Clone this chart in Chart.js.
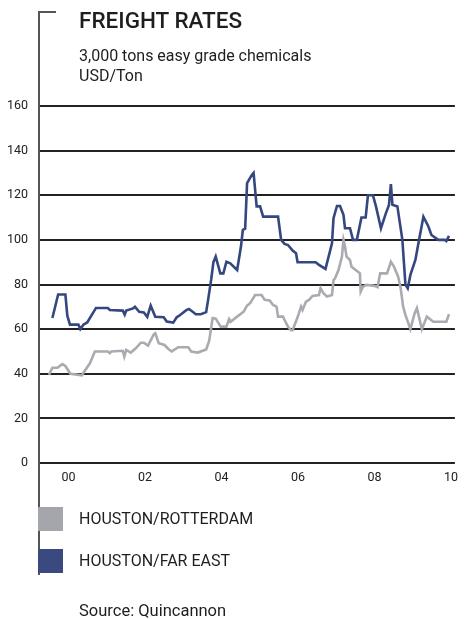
<!DOCTYPE html>
<html>
<head>
<meta charset="utf-8">
<title>Freight rates</title>
<script src="https://cdn.jsdelivr.net/npm/chart.js@4.4.1/dist/chart.umd.min.js"></script>
<style>
  body { margin: 0; background: #fff; font-family: Roboto, "DejaVu Sans", sans-serif; color: #1e1e1e; }
  #page { position: relative; width: 465px; height: 619px; overflow: hidden; }
  #wrap { position: absolute; left: 0; top: 0; width: 465px; height: 490px; }
  .vline { position: absolute; left: 38px; top: 11px; width: 2px; height: 564px; background: #555; }
  .hline { position: absolute; left: 38px; top: 11px; width: 18px; height: 2px; background: #555; }
  h1 { position: absolute; left: 79px; top: 7px; margin: 0; font-size: 22.5px; font-weight: 500; letter-spacing: 0; }
  .sub { position: absolute; left: 79px; top: 46px; font-size: 16px; line-height: 20px; }
  .key { position: absolute; left: 38px; width: 25px; height: 24px; }
  .keylabel { position: absolute; left: 79px; font-size: 16px; }
  .source { position: absolute; left: 79px; top: 601px; font-size: 16.5px; }
</style>
</head>
<body>
<div id="page">
  <div id="wrap"><canvas id="myChart" width="465" height="490"></canvas></div>
  <div class="vline"></div>
  <div class="hline"></div>
  <h1>FREIGHT RATES</h1>
  <div class="sub">3,000 tons easy grade chemicals<br>USD/Ton</div>
  <div class="key" style="top:507px; background:#a4a6ac;"></div>
  <div class="keylabel" style="top:509px;">HOUSTON/ROTTERDAM</div>
  <div class="key" style="top:549px; background:#3a4a80;"></div>
  <div class="keylabel" style="top:551px;">HOUSTON/FAR EAST</div>
  <div class="source">Source: Quincannon</div>
</div>
<script>
// Houston/Far East, USD per ton (decimal year, rate)
const feYears = [1999.58, 1999.73, 1999.92, 1999.97, 2000.04, 2000.26, 2000.31, 2000.39, 2000.49, 2000.72,
  2001.03, 2001.08, 2001.42, 2001.47, 2001.51, 2001.69, 2001.74, 2001.85, 2001.97, 2002.06,
  2002.15, 2002.27, 2002.49, 2002.57, 2002.74, 2002.83, 2002.92, 2003.08, 2003.15, 2003.23,
  2003.33, 2003.46, 2003.60, 2003.65, 2003.73, 2003.79, 2003.85, 2003.97, 2004.05, 2004.13,
  2004.23, 2004.41, 2004.51, 2004.56, 2004.62, 2004.67, 2004.79, 2004.84, 2004.92, 2005.01,
  2005.09, 2005.48, 2005.56, 2005.65, 2005.74, 2005.86, 2005.95, 2005.99, 2006.46, 2006.55,
  2006.72, 2006.89, 2006.93, 2007.02, 2007.10, 2007.19, 2007.23, 2007.36, 2007.44, 2007.54,
  2007.66, 2007.77, 2007.83, 2007.96, 2008.04, 2008.17, 2008.30, 2008.38, 2008.43, 2008.47,
  2008.60, 2008.73, 2008.81, 2008.87, 2008.94, 2009.07, 2009.15, 2009.28, 2009.41, 2009.49,
  2009.67, 2009.84, 2009.88, 2009.95];
const feRates = [65, 75.5, 75.5, 66, 62, 62, 60, 62, 63, 69.5,
  69.5, 68.6, 68.3, 66.5, 68.3, 69.3, 70, 67.8, 67.5, 65.5,
  70.5, 65.5, 65.3, 63.4, 62.9, 65.3, 66.3, 68.5, 69, 68,
  66.7, 66.7, 67.6, 73, 82, 90, 92.5, 85, 85, 90.2,
  89.5, 86.5, 97, 104.5, 105, 125.4, 129, 130, 115, 115,
  110.4, 110.4, 100, 98.2, 97.7, 95.2, 94, 90, 90, 88.8,
  87, 98.5, 109.7, 115.2, 115.2, 111.2, 105.2, 105.2, 100, 100,
  110, 110, 120, 120, 115, 105.2, 112, 115.7, 125, 115.7,
  115, 100, 80, 78.3, 84.3, 91, 98.5, 110.4, 106, 102.2,
  100, 100, 99.5, 101.8];

// Houston/Rotterdam, USD per ton
const rtYears = [1999.49, 1999.58, 1999.71, 1999.84, 1999.92, 2000.05, 2000.35, 2000.44, 2000.56, 2000.69,
  2001.03, 2001.08, 2001.12, 2001.42, 2001.46, 2001.51, 2001.63, 2001.76, 2001.89, 2001.97,
  2002.08, 2002.23, 2002.27, 2002.36, 2002.51, 2002.62, 2002.70, 2002.87, 2003.13, 2003.21,
  2003.38, 2003.60, 2003.68, 2003.77, 2003.85, 2003.98, 2004.13, 2004.20, 2004.24, 2004.41,
  2004.58, 2004.67, 2004.75, 2004.88, 2005.05, 2005.13, 2005.26, 2005.35, 2005.44, 2005.48,
  2005.61, 2005.65, 2005.74, 2005.82, 2005.86, 2005.99, 2006.08, 2006.12, 2006.21, 2006.29,
  2006.38, 2006.55, 2006.59, 2006.67, 2006.76, 2006.89, 2006.93, 2006.97, 2007.06, 2007.15,
  2007.19, 2007.23, 2007.27, 2007.36, 2007.40, 2007.56, 2007.62, 2007.64, 2007.70, 2007.79,
  2008.00, 2008.08, 2008.15, 2008.33, 2008.43, 2008.51, 2008.62, 2008.68, 2008.75, 2008.81,
  2008.94, 2009.05, 2009.11, 2009.24, 2009.37, 2009.49, 2009.54, 2009.88, 2009.95];
const rtRates = [39.5, 42.7, 42.7, 44.3, 43.5, 40, 39.3, 41.7, 44.7, 50,
  50, 49.2, 50, 50.3, 47.7, 50.7, 49.5, 51.4, 53.9, 53.9,
  52.6, 57.6, 58.1, 53.7, 52.9, 51, 50, 51.9, 51.9, 50,
  49.5, 50.9, 54.8, 65, 64.7, 61.1, 61.1, 64.5, 63.3, 65.6,
  67.8, 70.5, 71.6, 75.3, 75.3, 73.1, 72.8, 70.8, 70.1, 65.6,
  65.6, 64.1, 61.1, 59.5, 59.5, 65.3, 70.1, 68.6, 72.3, 73.1,
  74.9, 75.3, 78.3, 76, 74.6, 75.3, 82, 82.8, 86.5, 92.5,
  100, 97, 92.5, 91, 88, 85.8, 85, 76.8, 79, 79.8,
  79.4, 78.8, 85, 85, 90.2, 88, 83.5, 79, 70.1, 66.4,
  60, 67, 69.4, 60, 65.6, 64, 63.3, 63.3, 66.7];

const yTicks = [0, 20, 40, 60, 80, 100, 120, 140, 160];
const xTickYears = [2000, 2002, 2004, 2006, 2008, 2010];
const xTickLabels = ['00', '02', '04', '06', '08', '10'];

const toPoints = (xs, ys) => xs.map((x, i) => ({ x: x, y: ys[i] }));

const ctx = document.getElementById('myChart').getContext('2d');
const myChart = new Chart(ctx, {
    type: 'line',
    data: {
        datasets: [{
            label: 'HOUSTON/ROTTERDAM',
            data: toPoints(rtYears, rtRates),
            borderColor: '#a9abb0',
            borderWidth: 2.6,
            pointRadius: 0,
            tension: 0
        }, {
            label: 'HOUSTON/FAR EAST',
            data: toPoints(feYears, feRates),
            borderColor: '#34477f',
            borderWidth: 2.6,
            pointRadius: 0,
            tension: 0
        }]
    },
    options: {
        responsive: false,
        animation: false,
        devicePixelRatio: 1,
        layout: { padding: { top: 106, right: 3, left: 0, bottom: 0 } },
        plugins: { legend: { display: false }, tooltip: { enabled: false } },
        scales: {
            x: {
                type: 'linear',
                min: 1999.256,
                max: 2010.103,
                afterFit: scale => { scale.height = 27; },
                afterBuildTicks: scale => { scale.ticks = xTickYears.map(v => ({ value: v })); },
                grid: { display: false, drawTicks: false },
                border: { display: false },
                ticks: {
                    padding: 7,
                    color: '#222',
                    font: { family: 'Roboto', size: 12.5 },
                    maxRotation: 0,
                    autoSkip: false,
                    callback: value => xTickLabels[xTickYears.indexOf(value)]
                }
            },
            y: {
                min: 0,
                max: 160,
                afterFit: scale => { scale.width = 40; },
                afterBuildTicks: scale => { scale.ticks = yTicks.map(v => ({ value: v })); },
                grid: { color: '#222', lineWidth: 2, drawTicks: false },
                border: { display: false },
                ticks: {
                    padding: 12,
                    color: '#222',
                    font: { family: 'Roboto', size: 12.5 }
                }
            }
        }
    }
});
</script>
</body>
</html>
